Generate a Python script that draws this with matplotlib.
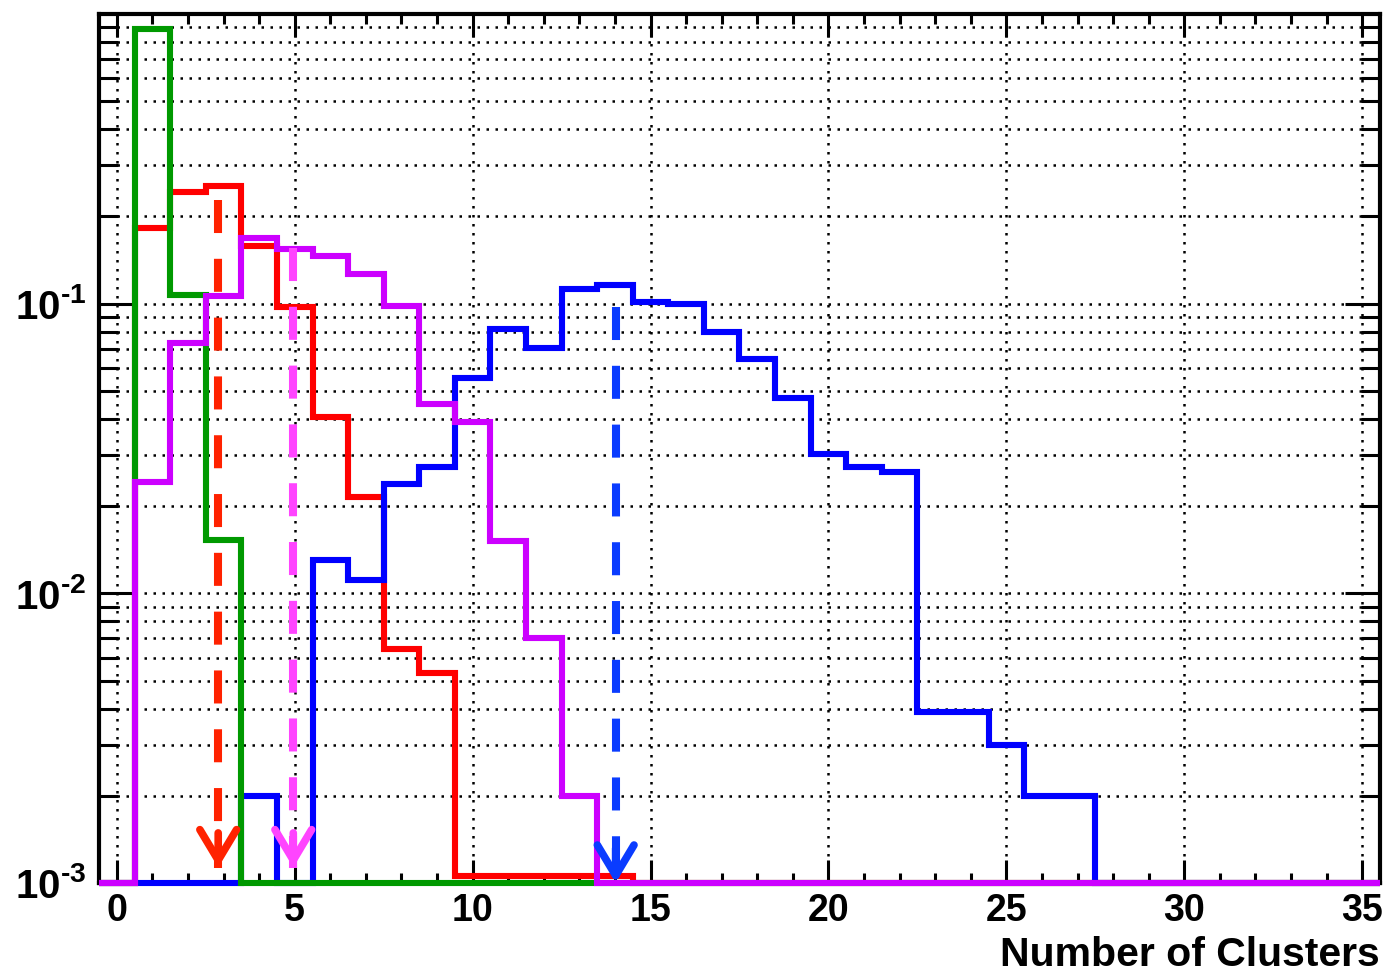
import numpy as np
import matplotlib
matplotlib.use('Agg')
import matplotlib.pyplot as plt
from matplotlib.ticker import MultipleLocator, LogLocator, NullFormatter

plt.rcParams['font.family'] = ['Liberation Sans', 'DejaVu Sans']
plt.rcParams['font.weight'] = 'bold'
plt.rcParams['mathtext.fontset'] = 'custom'
plt.rcParams['mathtext.rm'] = 'Liberation Sans:bold'
plt.rcParams['mathtext.it'] = 'Liberation Sans:bold'
plt.rcParams['mathtext.bf'] = 'Liberation Sans:bold'

# bin edges: unit bins centred on integers, -0.5 .. 35.5
edges = np.arange(-0.5, 36.0, 1.0)
nbins = len(edges) - 1

def pad(vals):
    return np.array(vals + [0.0] * (nbins - len(vals)))

# normalised counts per bin (0 = empty bin)
red_vals = pad([0, 0.183, 0.242, 0.255, 0.158, 0.0975, 0.0407, 0.0215,
                0.0064, 0.0053, 0.00106, 0.00106, 0.00106, 0.00106, 0.00106])
blue_vals = pad([0, 0, 0, 0, 0.0020, 0, 0.0130, 0.0111, 0.0239, 0.0272,
                 0.0555, 0.0815, 0.0705, 0.112, 0.116, 0.1015, 0.100,
                 0.080, 0.0642, 0.0472, 0.0302, 0.0272, 0.0262, 0.0039,
                 0.0039, 0.0030, 0.0020, 0.0020])
green_vals = pad([0, 0.885, 0.107, 0.0153])
purple_vals = pad([0, 0.0243, 0.073, 0.106, 0.169, 0.155, 0.146, 0.127,
                   0.098, 0.0452, 0.0391, 0.0151, 0.0070, 0.0020])

# mean markers (dashed arrows)
arrow_x = [2.85, 4.96, 14.02]
arrow_top = [0.228, 0.156, 0.097]
arrow_tip = [1.13e-3, 1.13e-3, 1.0e-3]
arrow_colors = ['#ff2200', '#ff44ff', '#0a3cff']

ymin, ymax = 1e-3, 1.0

fig = plt.figure(figsize=(13.89, 9.72), dpi=100)
ax = fig.add_axes([99 / 1389, 1 - 883 / 972, 1281 / 1389, 869 / 972])
ax.set_yscale('log')
ax.set_xlim(-0.5, 35.5)
ax.set_ylim(ymin, ymax)

# histograms, drawing order as in the original
for vals, col in [(red_vals, '#ff0000'), (blue_vals, '#0000ff'),
                  (green_vals, '#009900'), (purple_vals, '#cc00ff')]:
    shown = np.where(vals > 0, vals, ymin)
    ax.stairs(shown, edges, baseline=None, color=col, lw=4.4,
              zorder=3, clip_on=False)

# dashed arrows at the means
for m, top, tip, col in zip(arrow_x, arrow_top, arrow_tip, arrow_colors):
    ax.plot([m, m], [top, tip], color=col, lw=5.8, ls=(0, (4.1, 3.2)),
            dash_capstyle='butt', zorder=5, clip_on=False)
    ax.annotate('', xy=(m, tip), xytext=(0, 25), textcoords='offset points',
                annotation_clip=False, zorder=6,
                arrowprops=dict(arrowstyle='->,head_length=1.1,head_width=0.66',
                                color=col, lw=5.5, shrinkA=0, shrinkB=0,
                                mutation_scale=20))

# ticks
ax.xaxis.set_major_locator(MultipleLocator(5))
ax.xaxis.set_minor_locator(MultipleLocator(1))
ax.set_yticks([1e-3, 1e-2, 1e-1])
ax.set_yticklabels([r'$10^{\text{-}3}$', r'$10^{\text{-}2}$', r'$10^{\text{-}1}$'])
ax.yaxis.set_minor_locator(LogLocator(base=10, subs=np.arange(2, 10)))
ax.yaxis.set_minor_formatter(NullFormatter())

ax.tick_params(which='both', direction='in', top=True, right=True, width=2.2, color='black')
ax.tick_params(axis='x', which='major', length=16.5, labelsize=27, pad=7)
ax.tick_params(axis='x', which='minor', length=7)
ax.tick_params(axis='y', which='major', length=25, labelsize=29, pad=9)
ax.tick_params(axis='y', which='minor', length=13.5)
for lab in ax.get_xticklabels() + ax.get_yticklabels():
    lab.set_fontweight('bold')

# dotted grid
ax.grid(True, axis='x', which='major', color='black', ls=(0, (1, 2.6)), lw=1.8)
ax.grid(True, axis='y', which='both', color='black', ls=(0, (1, 2.6)), lw=1.8)

for sp in ax.spines.values():
    sp.set_linewidth(3.0)

ax.set_xlabel('Number of Clusters', loc='right', fontsize=29.5,
              fontweight='bold', labelpad=5)

fig.savefig('out.png', dpi=100)
